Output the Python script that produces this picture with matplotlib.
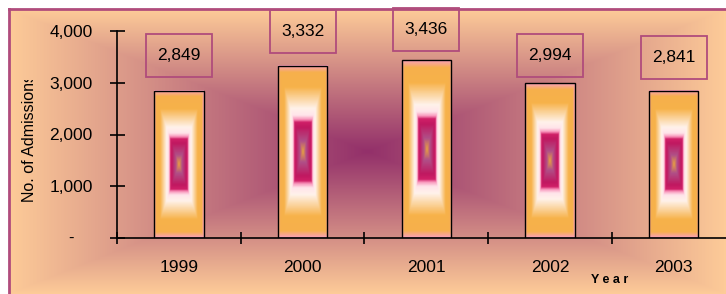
import numpy as np
import matplotlib
matplotlib.use('Agg')
import matplotlib.pyplot as plt
from matplotlib.colors import LinearSegmentedColormap
from matplotlib.patches import Rectangle
from matplotlib.ticker import FixedLocator, FuncFormatter, NullFormatter
from matplotlib.transforms import (Bbox, TransformedBbox, ScaledTranslation,
                                   blended_transform_factory)

years = ['1999', '2000', '2001', '2002', '2003']
admissions = [2849, 3332, 3436, 2994, 2841]
yticks = [0, 1000, 2000, 3000, 4000]

# where the value boxes sit (data y)
box_y = [3517, 4000, 4020, 3536, 3490]

plt.rcParams['font.family'] = ['Liberation Sans', 'DejaVu Sans']

W, H = 726, 294
fig = plt.figure(figsize=(W / 100, H / 100), dpi=100)
fig.patch.set_facecolor('white')


def rect_grad(ny, nx):
    u = np.abs(np.linspace(-1, 1, nx))
    v = np.abs(np.linspace(-1, 1, ny))
    return np.maximum(u[None, :], v[:, None])


# background, "from centre" gradient with a frame
bg = fig.add_axes([9 / W, 0, 1 - 9 / W, 285 / H])
bg_cmap = LinearSegmentedColormap.from_list('bg', ['#93306A', '#FDCB98'])
bg.imshow(rect_grad(285, 717), cmap=bg_cmap, aspect='auto',
          interpolation='bilinear', vmin=0, vmax=1)
bg.set_xticks([])
bg.set_yticks([])
for s in ['right', 'bottom']:
    bg.spines[s].set_visible(False)
for s in ['left', 'top']:
    bg.spines[s].set_color('#B04C7C')
    bg.spines[s].set_linewidth(2)

ax = fig.add_axes([117 / W, 56 / H, 609 / W, 207 / H])
ax.patch.set_visible(False)

x = np.arange(len(years))
bars = ax.bar(x, admissions, width=0.4, facecolor='none',
              edgecolor='black', linewidth=1, zorder=3)

bar_cmap = LinearSegmentedColormap.from_list('bar', [
    (0.00, '#E8A040'), (0.12, '#B05088'), (0.28, '#C01860'),
    (0.34, '#D02068'), (0.37, '#F890B8'), (0.42, '#FFE4EA'),
    (0.50, '#FFF2EA'), (0.62, '#FBD49E'), (0.75, '#F7B24A'),
    (0.92, '#F6B04C'), (1.00, '#F9A0B8')])
g = rect_grad(200, 200)
for b in bars:
    ax.imshow(g, cmap=bar_cmap, vmin=0, vmax=1, aspect='auto',
              interpolation='bilinear', zorder=2,
              extent=[b.get_x(), b.get_x() + b.get_width(), 0, b.get_height()])

ax.set_xlim(-0.5, -0.5 + 609 / 123.7)
ax.set_ylim(0, 4000)

for s in ['top', 'right']:
    ax.spines[s].set_visible(False)
for s in ['left', 'bottom']:
    ax.spines[s].set_linewidth(1.2)

ax.yaxis.set_major_locator(FixedLocator(yticks))
ax.yaxis.set_major_formatter(FuncFormatter(lambda v, p: '' if v == 0 else f'{int(v):,}'))
ax.tick_params(axis='y', direction='inout', length=10.8, width=1.2,
               pad=12, labelsize=12.5)

ax.xaxis.set_major_locator(FixedLocator(x - 0.5))
ax.xaxis.set_major_formatter(NullFormatter())
ax.set_xticks(x, years, minor=True)
ax.tick_params(axis='x', which='major', direction='inout', length=8.6, width=1.2)
ax.tick_params(axis='x', which='minor', length=0, pad=16, labelsize=12.5)

# zero shown as a dash
ax.text(-46 / 609, 0, '-', transform=blended_transform_factory(ax.transAxes, ax.transData),
        ha='center', va='center', fontsize=12)

# value labels in 66x43 px boxes
for i, v in enumerate(admissions):
    ax.text(i, box_y[i], f'{v:,}', ha='center', va='center', fontsize=12.5, zorder=5)
    tr = fig.dpi_scale_trans + ScaledTranslation(i, box_y[i], ax.transData)
    ax.add_patch(Rectangle((-0.33, -0.215), 0.66, 0.43, transform=tr, fill=False,
                           ec='#B04C7C', lw=1.3, zorder=5, clip_on=False))

fig.text(610 / W, 1 - 280 / H, 'Y e a r', ha='center', va='center',
         fontsize=9, fontweight='bold')

yl = fig.text(30 / W, 1 - 202 / H, 'No. of Admissions', rotation=90,
              ha='center', va='bottom', fontsize=11.5)
yl.set_clip_box(TransformedBbox(Bbox([[0, 0], [1, 1 - 80 / H]]), fig.transFigure))
yl.set_clip_on(True)

fig.savefig('out.png', dpi=100)
